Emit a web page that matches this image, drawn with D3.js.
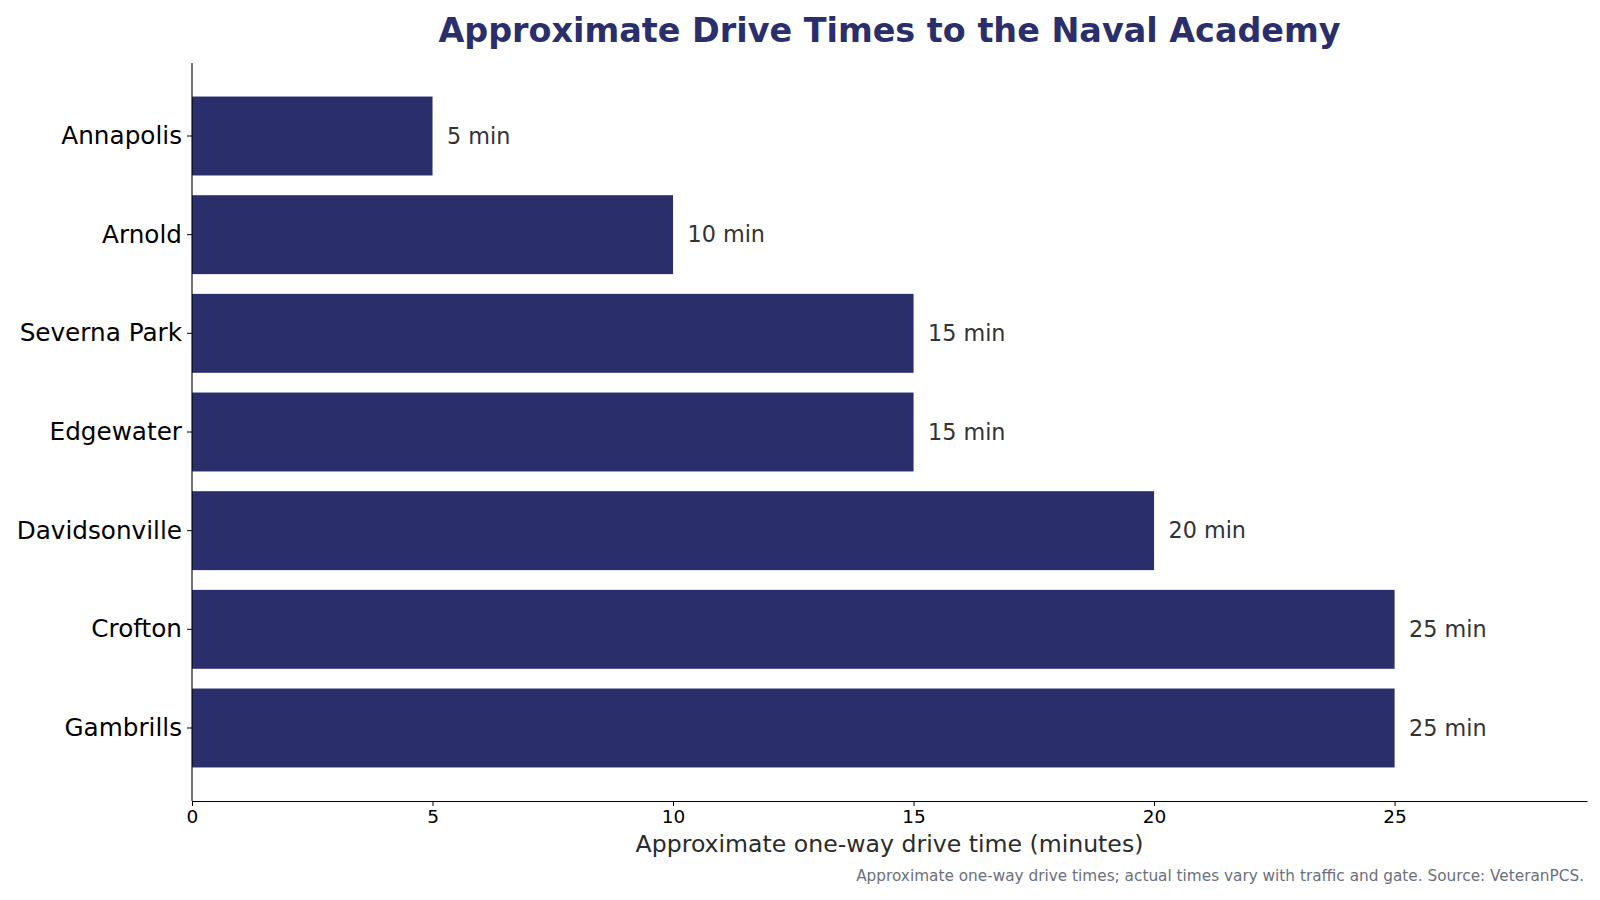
<!DOCTYPE html>
<html>
<head>
<meta charset="utf-8">
<script src="https://cdn.jsdelivr.net/npm/d3@7"></script>
<style>
  body { margin: 0; background: #fff; }
  svg { display: block; font-family: 'DejaVu Sans', sans-serif; }
</style>
</head>
<body>
<div id="chart"></div>
<script>
// data
const towns = ["Annapolis", "Arnold", "Severna Park", "Edgewater", "Davidsonville", "Crofton", "Gambrills"];
const minutes = [5, 10, 15, 15, 20, 25, 25];
const xTicks = [0, 5, 10, 15, 20, 25];

const W = 1600, H = 900;
const margin = { top: 63, left: 192, bottom: 99, right: 13 };
const width = W - margin.left - margin.right;
const height = H - margin.top - margin.bottom;
const navy = "#2a2e6b";

const svg = d3.select("#chart")
    .append("svg")
    .attr("width", W)
    .attr("height", H);

const g = svg.append("g")
    .attr("transform", "translate(" + margin.left + "," + margin.top + ")");

// scales
const x = d3.scaleLinear().domain([0, 29]).range([0, width]);
const y = d3.scaleBand().domain(towns).range([0, height])
    .paddingInner(0.2).paddingOuter(0.34);

const rows = towns.map((t, i) => ({ town: t, value: minutes[i] }));

// bars
g.selectAll("rect.bar")
    .data(rows)
    .enter().append("rect")
    .attr("class", "bar")
    .attr("x", x(0))
    .attr("y", d => y(d.town))
    .attr("width", d => x(d.value) - x(0))
    .attr("height", y.bandwidth())
    .style("fill", navy);

// value labels
g.selectAll("text.val")
    .data(rows)
    .enter().append("text")
    .attr("class", "val")
    .attr("x", d => x(d.value + 0.3))
    .attr("y", d => y(d.town) + y.bandwidth() / 2)
    .attr("dy", "0.35em")
    .style("font-size", "22.3px")
    .style("fill", "#333333")
    .text(d => d.value + " min");

// x axis
g.append("g")
    .attr("class", "x-axis")
    .attr("transform", "translate(0," + height + ")")
    .call(d3.axisBottom(x).tickValues(xTicks).tickSize(5).tickPadding(4).tickSizeOuter(0))
    .call(a => a.selectAll("text").style("font-size", "18.5px").style("fill", "#000").style("font-family", "'DejaVu Sans', sans-serif"))
    .call(a => a.selectAll("line").style("stroke", "#000"))
    .call(a => a.select(".domain").style("stroke", "#000").attr("stroke-width", 1.1));

// y axis
g.append("g")
    .attr("class", "y-axis")
    .call(d3.axisLeft(y).tickSize(5).tickPadding(5).tickSizeOuter(0))
    .call(a => a.selectAll("text").style("font-size", "24.7px").style("fill", "#000").style("font-family", "'DejaVu Sans', sans-serif"))
    .call(a => a.selectAll("line").style("stroke", "#000"))
    .call(a => a.select(".domain").attr("d", "M0,0V" + height).style("stroke", "#000").attr("stroke-width", 1.1));

// title
svg.append("text")
    .attr("x", margin.left + width / 2)
    .attr("y", 42)
    .style("text-anchor", "middle")
    .style("font-size", "33.4px")
    .style("font-weight", "bold")
    .style("fill", navy)
    .text("Approximate Drive Times to the Naval Academy");

// x label
svg.append("text")
    .attr("x", margin.left + width / 2)
    .attr("y", 852)
    .style("text-anchor", "middle")
    .style("font-size", "23.6px")
    .style("fill", "#2b2b2b")
    .text("Approximate one-way drive time (minutes)");

// caption
svg.append("text")
    .attr("x", 1584)
    .attr("y", 881)
    .style("text-anchor", "end")
    .style("font-size", "15.3px")
    .style("fill", "#6b6f7d")
    .text("Approximate one-way drive times; actual times vary with traffic and gate. Source: VeteranPCS.");
</script>
</body>
</html>
